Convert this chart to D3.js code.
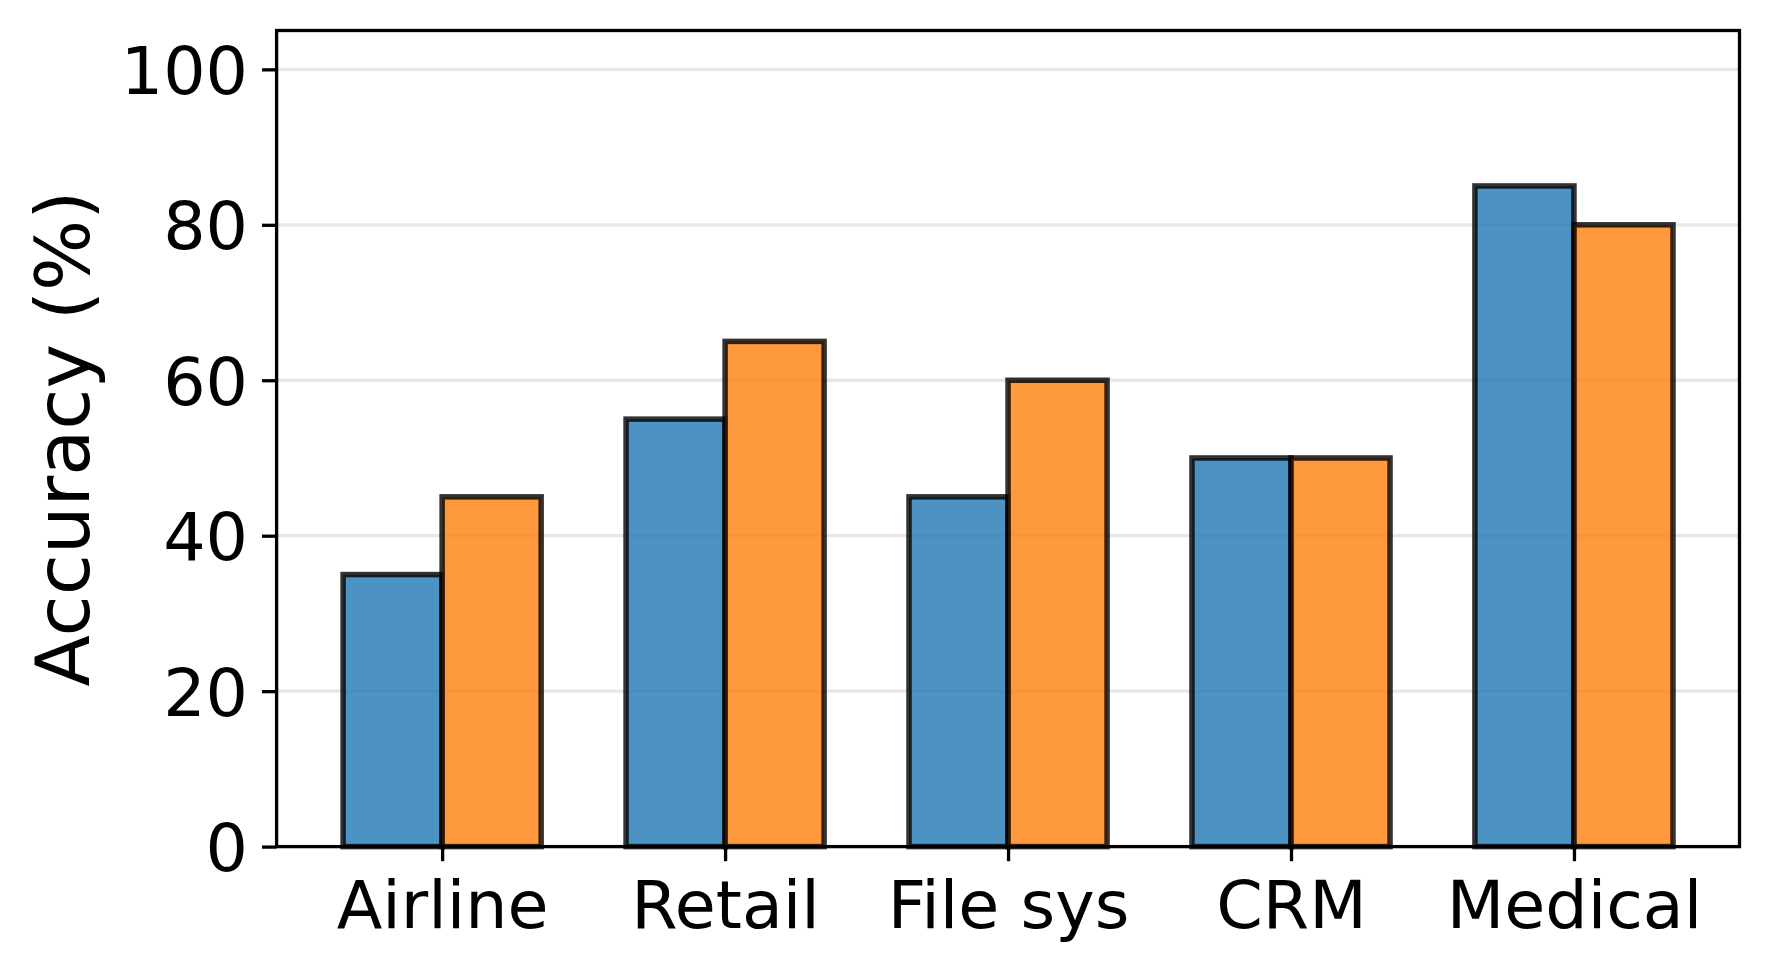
<!DOCTYPE html>
<html>
<head>
<meta charset="utf-8">
<script src="https://cdn.jsdelivr.net/npm/d3@7"></script>
<style>
	body { margin: 0; background: #fff; }
	text { font-family: "DejaVu Sans", sans-serif; }
</style>
</head>
<body>
<svg id="svg"></svg>
<script>

	var categories = ["Airline", "Retail", "File sys", "CRM", "Medical"];
	var seriesA = [35, 55, 45, 50, 85];   // blue
	var seriesB = [45, 65, 60, 50, 80];   // orange
	var yTicks = [0, 20, 40, 60, 80, 100];

	var
		width = 1770,
		height = 973,
		margin = {top: 30.5, right: 30.5, bottom: 126.4, left: 276.6},
		innerW = width - margin.left - margin.right,
		innerH = height - margin.top - margin.bottom,
		barW = 0.35;

	var svg = d3.select("#svg")
		.attr("width", width)
		.attr("height", height);

	var g = svg.append("g")
		.attr("transform", "translate(" + margin.left + "," + margin.top + ")");

	var x = d3.scaleLinear().domain([-0.585, categories.length - 1 + 0.585]).range([0, innerW]);
	var y = d3.scaleLinear().domain([0, 105]).range([innerH, 0]);

	// grid
	g.selectAll("line.grid")
		.data(yTicks)
		.enter()
		.append("line")
		.attr("class", "grid")
		.attr("x1", 0)
		.attr("x2", innerW)
		.attr("y1", function(d){ return y(d); })
		.attr("y2", function(d){ return y(d); })
		.style("stroke", "#b0b0b0")
		.style("stroke-opacity", 0.3)
		.style("stroke-width", 3.3);

	var series = [
		{values: seriesA, off: -barW / 2, color: "#1f77b4"},
		{values: seriesB, off: barW / 2, color: "#ff7f0e"}
	];

	series.forEach(function(s){
		g.selectAll(null)
			.data(s.values)
			.enter()
			.append("rect")
			.attr("x", function(d, i){ return x(i + s.off - barW / 2); })
			.attr("y", function(d){ return y(d); })
			.attr("width", x(barW) - x(0))
			.attr("height", function(d){ return y(0) - y(d); })
			.style("fill", s.color)
			.style("fill-opacity", 0.8)
			.style("stroke", "#000")
			.style("stroke-opacity", 0.8)
			.style("stroke-width", 5.5);
	});

	// axes
	var xAxis = d3.axisBottom(x)
		.tickValues(d3.range(categories.length))
		.tickFormat(function(d){ return categories[d]; })
		.tickSize(14.6)
		.tickPadding(16);

	var yAxis = d3.axisLeft(y)
		.tickValues(yTicks)
		.tickSize(14.6)
		.tickPadding(14);

	var gx = g.append("g")
		.attr("transform", "translate(0," + innerH + ")")
		.call(xAxis);

	var gy = g.append("g").call(yAxis);

	[gx, gy].forEach(function(a){
		a.select(".domain").remove();
		a.selectAll(".tick line").style("stroke", "#000").style("stroke-width", 3.3);
		a.selectAll(".tick text")
			.style("font-family", "'DejaVu Sans', sans-serif")
			.style("font-size", "66.7px")
			.style("fill", "#000");
	});

	gx.selectAll(".tick text").attr("dy", "0.76em");
	gy.selectAll(".tick text").attr("dy", "0.36em");

	// frame
	g.append("rect")
		.attr("x", 0)
		.attr("y", 0)
		.attr("width", innerW)
		.attr("height", innerH)
		.style("fill", "none")
		.style("stroke", "#000")
		.style("stroke-width", 3.3);

	svg.append("text")
		.attr("transform", "translate(62," + (margin.top + innerH / 2) + ") rotate(-90)")
		.attr("text-anchor", "middle")
		.attr("dy", "0.36em")
		.style("font-size", "75px")
		.style("fill", "#000")
		.text("Accuracy (%)");

</script>
</body>
</html>
